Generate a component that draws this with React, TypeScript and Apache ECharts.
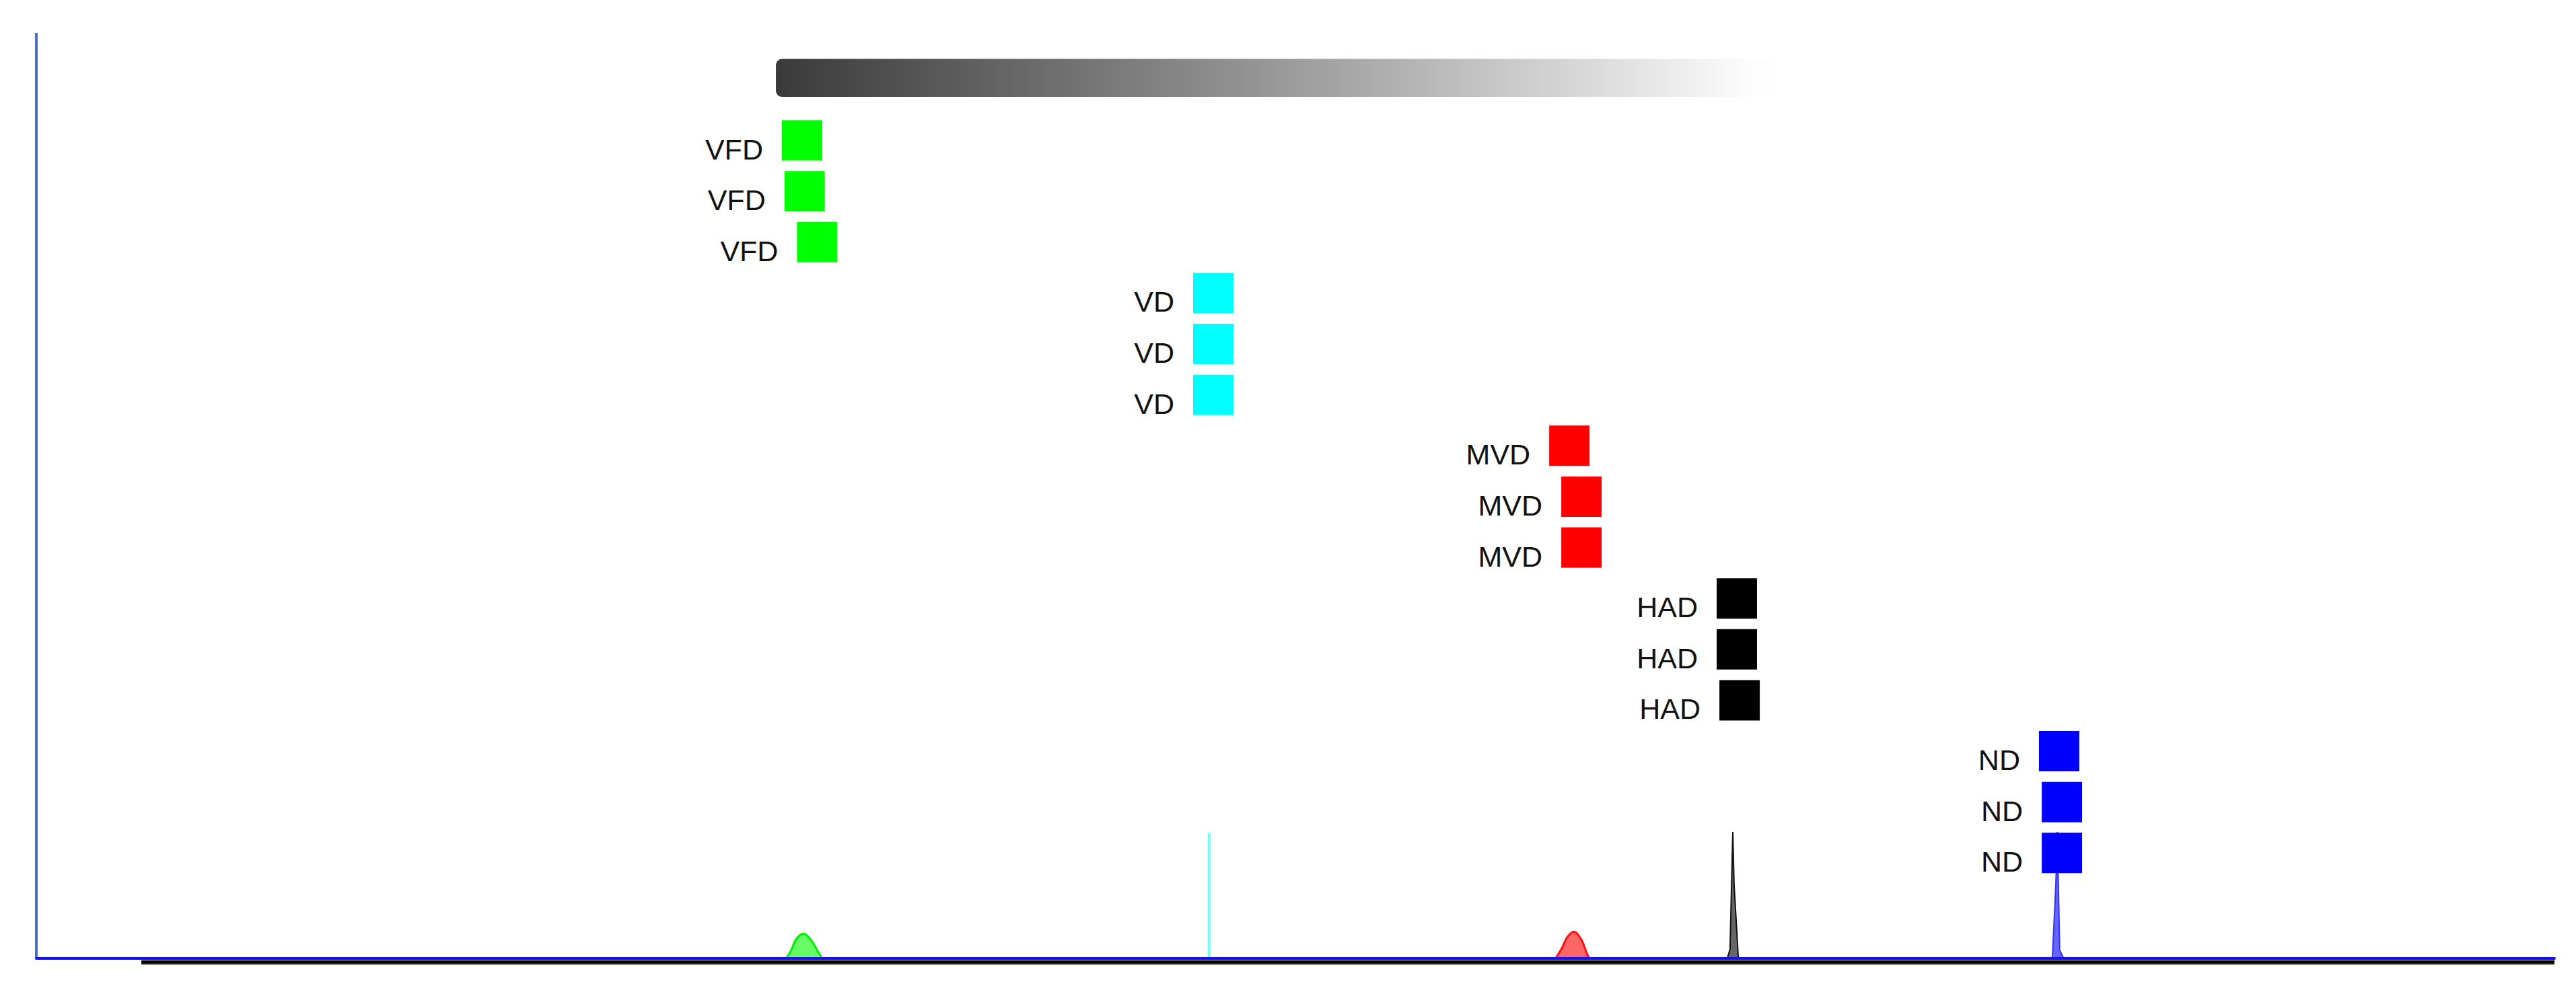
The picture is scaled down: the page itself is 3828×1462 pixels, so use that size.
import React, { useEffect, useRef } from "react";
import * as echarts from "echarts";

// ---- data ----
const groups = ["VFD", "VD", "MVD", "HAD", "ND"];
const groupColors = ["#00ff00", "#00ffff", "#ff0000", "#000000", "#0000ff"];

// marker rows (y values, top to bottom)
const rowY = [88.4, 82.9, 77.4, 71.9, 66.4, 60.9, 55.4, 49.9, 44.4, 38.9, 33.4, 27.9, 22.4, 16.9, 11.4];
// marker x positions per group (3 each)
const markerX = [
  [304.1, 305.1, 310.1],
  [467.4, 467.4, 467.4],
  [608.8, 613.6, 613.6],
  [675.3, 675.3, 676.4],
  [803.3, 804.4, 804.4],
];

// peak profiles at the baseline
const vfdPeak = [[297.7, 0], [299.6, 0.8], [301.8, 2.1], [304.7, 2.67], [307.6, 2.0], [310.3, 0.8], [312.0, 0]];
const vdPeak = [[465.7, 0], [465.7, 13.55]];
const mvdPeak = [[603.3, 0], [605.6, 1.0], [608.1, 2.35], [610.7, 2.9], [613.6, 2.0], [615.8, 0.5], [616.7, 0]];
const hadPeak = [[671.5, 0], [672.6, 1.0], [673.7, 13.67], [674.2, 8.05], [675.9, 0]];
const ndPeak = [[800.6, 0], [802.0, 8.05], [802.6, 13.67], [803.5, 0.9], [805.1, 0]];

// gradient range bar: [xStart, xEnd, yTop, yBottom]
const rangeBar = [[293.7, 699.0, 97.2, 93.1]];

// axis frame
const yAxisLine = [[0, 0], [0, 100]];
const baseLine = [[41.7, -0.38], [1000, -0.38]];
const baseShadow = [[41.7, -0.55], [1000, -0.55]];

export default function App() {
  const ref = useRef<HTMLDivElement>(null);

  useEffect(() => {
    if (!ref.current) return;
    const chart = echarts.init(ref.current, undefined, { renderer: "svg" });

    const scatterSeries = groups.map((g, gi) => ({
      type: "scatter",
      name: g,
      z: 6,
      symbol: "rect",
      symbolSize: 60,
      itemStyle: { color: groupColors[gi], opacity: 1 },
      label: {
        show: true,
        position: "left",
        distance: 28,
        offset: [0, 13],
        formatter: g,
        fontSize: 43,
        color: "#111",
        fontFamily: "Liberation Sans, Arial, sans-serif",
      },
      data: markerX[gi].map((x, i) => [x, rowY[gi * 3 + i]]),
    }));

    const peakDefs = [
      { data: vfdPeak, line: "#00ee00", fill: "rgba(0,255,0,0.6)", smooth: 0.35, width: 3 },
      { data: vdPeak, line: "#70ffff", fill: null, smooth: false, width: 4 },
      { data: mvdPeak, line: "#ff1010", fill: "rgba(255,0,0,0.6)", smooth: 0.35, width: 3 },
      { data: hadPeak, line: "#111111", fill: "rgba(0,0,0,0.6)", smooth: false, width: 2 },
      { data: ndPeak, line: "#3030ff", fill: "rgba(0,0,255,0.6)", smooth: false, width: 2 },
    ];

    const peakSeries = peakDefs.map((p) => ({
      type: "line",
      z: 3,
      showSymbol: false,
      smooth: p.smooth,
      lineStyle: { color: p.line, width: p.width },
      areaStyle: p.fill ? { color: p.fill, opacity: 1 } : undefined,
      data: p.data,
    }));

    chart.setOption({
      animation: false,
      backgroundColor: "#ffffff",
      grid: { left: 54, right: 32, top: 49, bottom: 27 },
      xAxis: {
        type: "value",
        min: 0,
        max: 1000,
        z: 4,
        axisLine: { show: true, onZero: true, lineStyle: { color: "#1010ff", width: 4 } },
        axisTick: { show: false },
        axisLabel: { show: false },
        splitLine: { show: false },
      },
      yAxis: {
        type: "value",
        min: -0.8,
        max: 100,
        axisLine: { show: false },
        axisTick: { show: false },
        axisLabel: { show: false },
        splitLine: { show: false },
      },
      series: [
        {
          type: "line",
          z: 1,
          clip: false,
          showSymbol: false,
          lineStyle: { color: "#4a6fc4", width: 4 },
          data: yAxisLine,
        },
        {
          type: "line",
          z: 1,
          clip: false,
          showSymbol: false,
          lineStyle: { color: "#8c8a76", width: 5 },
          data: baseShadow,
        },
        {
          type: "line",
          z: 2,
          clip: false,
          showSymbol: false,
          lineStyle: { color: "#000000", width: 5 },
          data: baseLine,
        },
        {
          type: "custom",
          z: 2,
          encode: { x: [0, 1], y: [2, 3] },
          renderItem: (params: any, api: any) => {
            const p0 = api.coord([api.value(0), api.value(2)]);
            const p1 = api.coord([api.value(1), api.value(3)]);
            return {
              type: "rect",
              shape: { x: p0[0], y: p0[1], width: p1[0] - p0[0], height: p1[1] - p0[1], r: 9 },
              style: {
                fill: new echarts.graphic.LinearGradient(0, 0, 1, 0, [
                  { offset: 0, color: "#3a3a3a" },
                  { offset: 0.5, color: "#9a9a9a" },
                  { offset: 0.9, color: "#f0f0f0" },
                  { offset: 1, color: "rgba(255,255,255,0)" },
                ]),
              },
            };
          },
          data: rangeBar,
        },
        ...peakSeries,
        ...scatterSeries,
      ],
    });

    return () => chart.dispose();
  }, []);

  return (
    <div
      ref={ref}
      style={{ position: "absolute", left: 0, top: 0, width: 3828, height: 1462 }}
    />
  );
}
